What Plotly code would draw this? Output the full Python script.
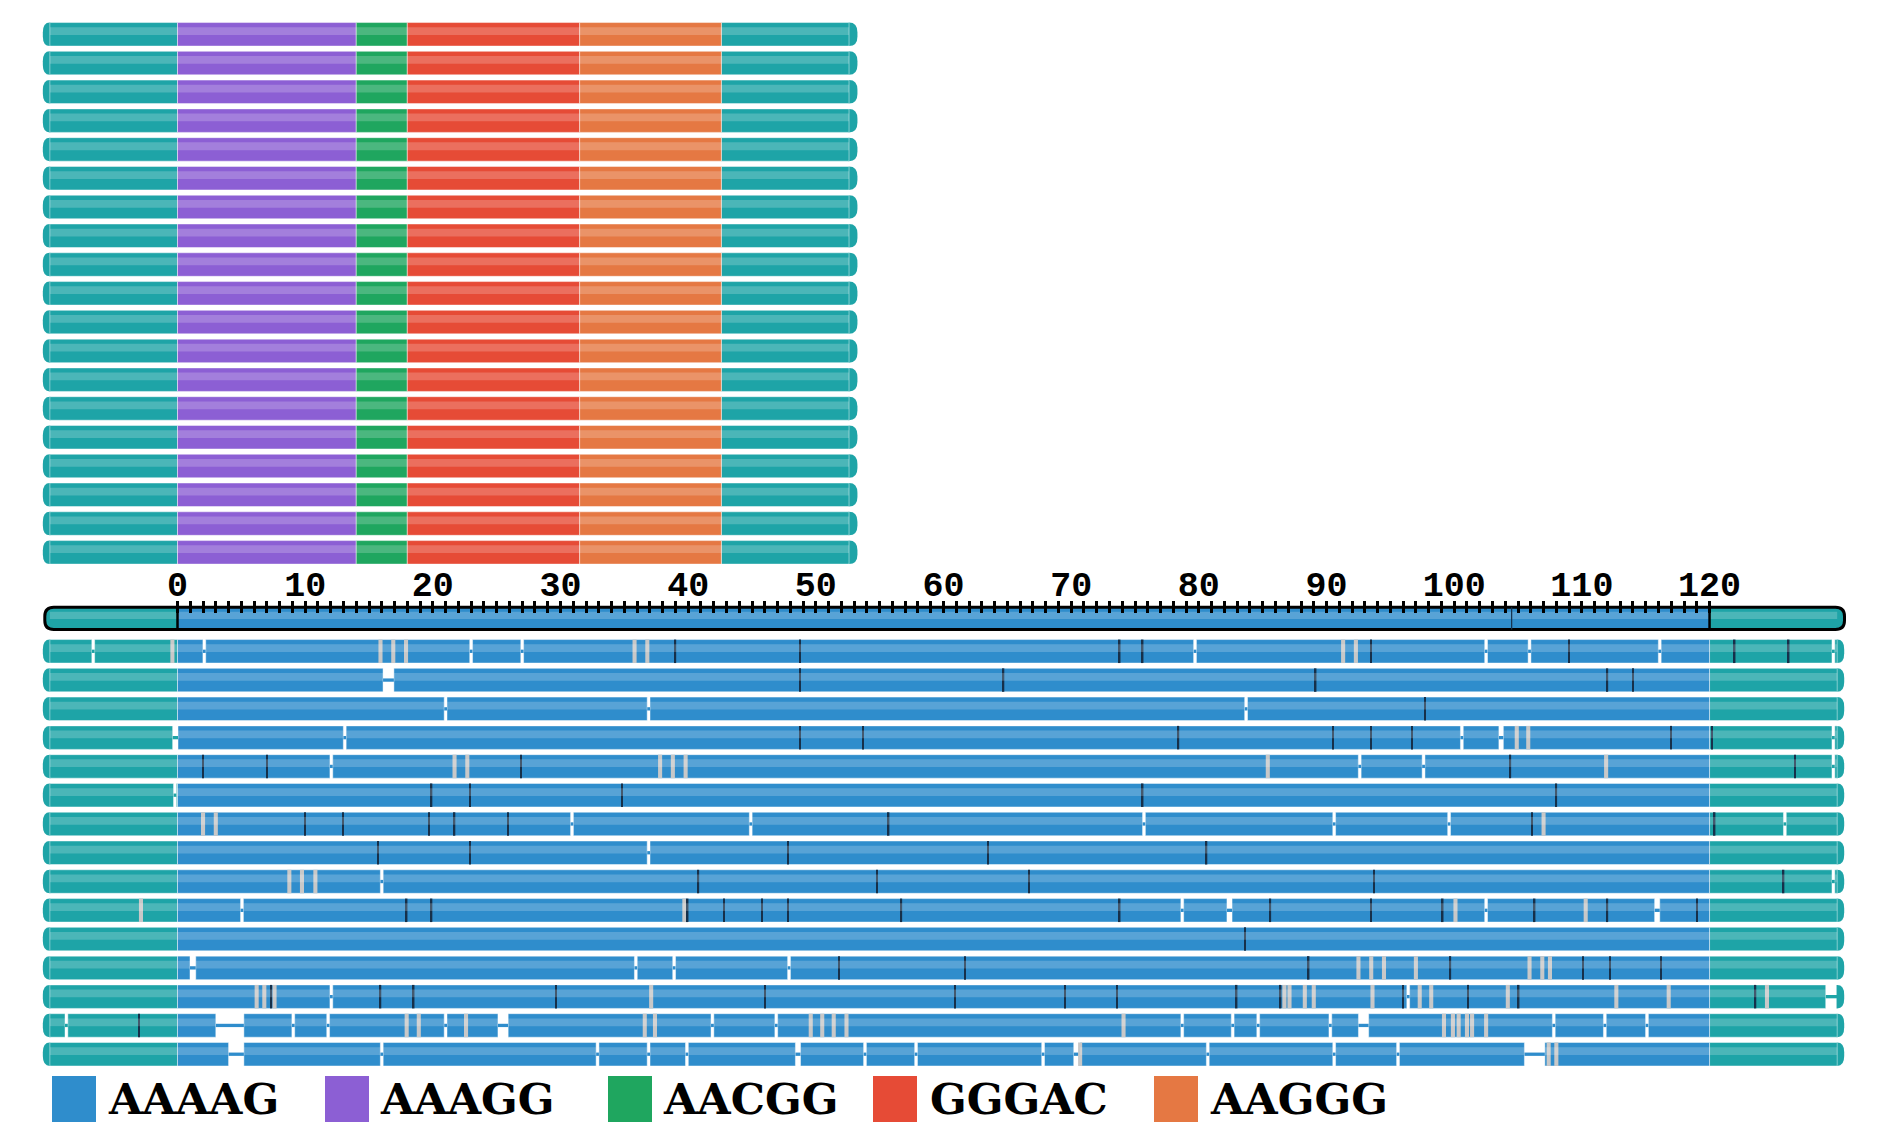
import plotly.graph_objects as go

# ------------------------------------------------------------------ data
FLANK_LEN = 10

# reference alleles: motif runs (in repeat units) drawn between the flanks
REF_MOTIFS = ["AAAGG", "AACGG", "GGGAC", "AAGGG"]
REF_RUN_LENGTHS = [14, 4, 13.5, 11.1]
N_REF_ALLELES = 19

# reads: a single AAAAG tract of 120 units
READ_MOTIF = "AAAAG"
READ_REPEAT_LEN = 120

# small splits between aligned pieces (unit position)
READ_BREAKS = [
    [-6.6, 2.1, 23.0, 27.0, 79.7, 102.5, 105.9, 116.1, 129.7],
    [],
    [21.0, 36.9, 83.7],
    [13.1, 100.6, 129.7],
    [12.05, 92.6, 97.6, 129.7],
    [-0.2],
    [30.9, 44.9, 75.7, 90.6, 99.6, 125.9],
    [36.9],
    [16.0, 129.7],
    [5.05, 78.7, 102.5],
    [],
    [35.9, 38.9, 47.9],
    [12.05, 96.4],
    [-8.7, 9.07, 11.8, 21.0, 41.9, 46.9, 78.7, 82.65, 84.65, 90.3, 107.8, 111.8, 115.1],
    [16.0, 32.9, 36.9, 39.9, 53.85, 57.85, 67.8, 80.7, 90.6, 95.6],
]

# deleted stretches (start, end), bridged by a thin line
READ_DELETIONS = [
    [],
    [(16.1, 16.95)],
    [],
    [(-0.38, 0.04), (103.5, 103.85)],
    [],
    [],
    [],
    [],
    [],
    [(82.2, 82.6), (115.7, 116.1)],
    [],
    [(0.98, 1.43)],
    [(129.1, 130.0)],
    [(3.0, 5.2), (25.1, 25.9), (92.5, 93.3)],
    [(4.0, 5.2), (48.4, 48.8), (70.2, 70.7), (105.5, 107.1)],
]

# single-base differences (dark ticks)
READ_DARK_TICKS = [
    [39.0, 48.76, 73.8, 75.6, 93.5, 109.0, 121.97, 126.2],
    [48.76, 64.7, 89.15, 112.0, 114.0],
    [97.7],
    [48.76, 53.7, 78.4, 90.5, 93.5, 96.7, 117.0, 120.2],
    [2.0, 7.0, 26.9, 104.4, 126.7],
    [19.9, 22.9, 34.8, 75.6, 108.0],
    [10.0, 12.96, 19.7, 21.7, 25.9, 55.7, 106.1, 120.4],
    [15.7, 22.9, 47.8, 63.5, 80.6],
    [40.8, 54.8, 66.7, 93.7, 125.8],
    [17.95, 19.9, 39.96, 42.8, 45.8, 47.8, 56.7, 73.8, 85.6, 93.5, 99.1, 106.3, 112.0, 119.0],
    [83.6],
    [51.8, 61.7, 88.6, 99.7, 110.1, 112.2, 116.2],
    [7.35, 15.9, 18.5, 29.65, 46.0, 60.9, 69.5, 73.6, 82.96, 86.4, 96.0, 101.1, 105.05, 123.6],
    [-3.0],
    [],
]

# inserted bases (grey ticks)
READ_GREY_TICKS = [
    [-0.4, 15.9, 16.9, 17.9, 35.8, 36.8, 91.3, 92.3],
    [],
    [],
    [104.9, 105.8],
    [21.7, 22.7, 37.8, 38.8, 39.8, 85.4, 111.9],
    [],
    [2.0, 3.0, 107.0],
    [],
    [8.76, 9.75, 10.8],
    [-2.86, 39.7, 100.1, 110.3],
    [],
    [92.5, 93.5, 94.5, 97.0, 105.9, 106.9, 107.5],
    [6.2, 6.8, 7.6, 37.1, 86.7, 87.1, 88.3, 89.0, 93.6, 97.3, 98.2, 104.2, 112.7, 116.8, 124.5],
    [17.95, 18.9, 22.6, 36.6, 37.4, 49.6, 50.5, 51.4, 52.4, 74.1, 99.2, 99.9, 100.35, 101.0, 101.4, 102.5],
    [70.7, 107.4, 108.0],
]

LEGEND_MOTIFS = ["AAAAG", "AAAGG", "AACGG", "GGGAC", "AAGGG"]
TICK_VALUES = list(range(0, 121, 10))
TICK_TEXT = [str(v) for v in TICK_VALUES]
MINOR_TICK_VALUES = [v for v in range(1, 120) if v % 10]

# ---------------------------------------------------------------- styling
COLORS = {
    "AAAAG": "#2f8dcc",
    "AAAGG": "#8c5fd4",
    "AACGG": "#1fa65f",
    "GGGAC": "#e64b36",
    "AAGGG": "#e57843",
    "flank": "#1ea4a7",
}
GREY = "#c8c8c8"
DARK = "#16304a"

W, H = 1889, 1139
X0_PX, PX_PER_UNIT = 177.5, 12.767
TOP_Y0, BOTTOM_Y0, ROW_PITCH, BAR_H = 34.3, 651.3, 28.78, 23.5
AXIS_TOP, AXIS_BOT = 607.3, 629.5
CAP_PX = 7.0
BREAK_HALF = 0.11
GREY_W, DARK_W = 0.32, 0.12
LEGEND_SQ_X = [52, 325, 608, 873, 1154]
LEGEND_TX_X = [106, 378, 661, 928, 1208]
LEGEND_Y, LEGEND_SQ_H, LEGEND_SQ_W = 1099, 46, 44

UNIT = 1.0 / PX_PER_UNIT


def new_layer(color, edge=False):
    return dict(color=color, edge=edge, base=[], x=[], y=[], w=[])


seg_layers, conn_layers = {}, {}
grey_layer = new_layer(GREY)
dark_layer = new_layer(DARK)
stripe_layer = new_layer("rgba(255,255,255,0.2)")


def put(layer, x0, x1, yc, thick):
    layer["base"].append(x0)
    layer["x"].append(x1 - x0)
    layer["y"].append(yc)
    layer["w"].append(thick)


def subtract(blocks, cuts):
    out = []
    for a, b, key in blocks:
        pieces = [(a, b)]
        for s, e in cuts:
            nxt = []
            for p, q in pieces:
                if e <= p or s >= q:
                    nxt.append((p, q))
                else:
                    if s > p:
                        nxt.append((p, s))
                    if e < q:
                        nxt.append((e, q))
            pieces = nxt
        out += [(p, q, key) for p, q in pieces]
    return out


shapes = []


def cap_path(x_edge, direction, yc, h, width_px):
    xo = x_edge + direction * width_px * UNIT
    xi = x_edge - direction * 0.05
    yt, yb = yc - h / 2, yc + h / 2
    return (f"M {xi},{yt} L {x_edge},{yt} Q {xo},{yt} {xo},{yt + 0.42 * h} "
            f"L {xo},{yb - 0.42 * h} Q {xo},{yb} {x_edge},{yb} L {xi},{yb} Z")


def draw_row(yc, blocks, cuts=(), right_cap_px=CAP_PX):
    for a, b, key in subtract(blocks, cuts):
        layer = seg_layers.setdefault(key, new_layer(COLORS[key], edge=True))
        put(layer, a, b, yc, BAR_H)
        put(stripe_layer, a, b, yc - 0.135 * BAR_H, 0.33 * BAR_H)
    for s, e in cuts:
        mid = (s + e) / 2
        key = next((k for a, b, k in blocks if a <= mid <= b), "flank")
        layer = conn_layers.setdefault(key, new_layer(COLORS[key]))
        put(layer, s, e, yc, 3.3)
    left, right = blocks[0][0], blocks[-1][1]
    for x_edge, d, wpx in ((left, -1, CAP_PX), (right, 1, right_cap_px)):
        shapes.append(dict(type="path", xref="x", yref="y", layer="below",
                           path=cap_path(x_edge, d, yc, BAR_H, wpx),
                           fillcolor=COLORS["flank"], line=dict(width=0)))


# reference alleles
ref_blocks = [(-FLANK_LEN, 0, "flank")]
pos = 0
for motif, run in zip(REF_MOTIFS, REF_RUN_LENGTHS):
    ref_blocks.append((pos, pos + run, motif))
    pos += run
ref_blocks.append((pos, pos + FLANK_LEN, "flank"))
for i in range(N_REF_ALLELES):
    draw_row(TOP_Y0 + i * ROW_PITCH, ref_blocks, right_cap_px=8.4)

# reads
read_blocks = [(-FLANK_LEN, 0, "flank"), (0, READ_REPEAT_LEN, READ_MOTIF),
               (READ_REPEAT_LEN, READ_REPEAT_LEN + FLANK_LEN, "flank")]
for i in range(len(READ_BREAKS)):
    yc = BOTTOM_Y0 + i * ROW_PITCH
    cuts = [(b - BREAK_HALF, b + BREAK_HALF) for b in READ_BREAKS[i]] + list(READ_DELETIONS[i])
    draw_row(yc, read_blocks, cuts)
    for g in READ_GREY_TICKS[i]:
        put(grey_layer, g - GREY_W / 2, g + GREY_W / 2, yc, BAR_H)
    for d in READ_DARK_TICKS[i]:
        put(dark_layer, d - DARK_W / 2, d + DARK_W / 2, yc, BAR_H)

# ---------------------------------------------------------------- ruler bar
axis_yc = (AXIS_TOP + AXIS_BOT) / 2
axis_h = AXIS_BOT - AXIS_TOP
ax_l = (44.8 - X0_PX) * UNIT
ax_r = (1844.5 - X0_PX) * UNIT
rx, ry = 9 * UNIT, 9


def rrect(x0, x1, y0, y1):
    return (f"M {x0 + rx},{y0} L {x1 - rx},{y0} Q {x1},{y0} {x1},{y0 + ry} "
            f"L {x1},{y1 - ry} Q {x1},{y1} {x1 - rx},{y1} L {x0 + rx},{y1} "
            f"Q {x0},{y1} {x0},{y1 - ry} L {x0},{y0 + ry} Q {x0},{y0} {x0 + rx},{y0} Z")


shapes.append(dict(type="path", xref="x", yref="y", layer="below",
                   path=rrect(ax_l, ax_r, AXIS_TOP, AXIS_BOT),
                   fillcolor=COLORS["flank"], line=dict(width=0)))
ruler_layer = new_layer(COLORS[READ_MOTIF])
put(ruler_layer, 0, READ_REPEAT_LEN, axis_yc, axis_h)
ruler_stripe = new_layer("rgba(255,255,255,0.2)")
put(ruler_stripe, -FLANK_LEN, READ_REPEAT_LEN + FLANK_LEN, axis_yc - 0.135 * axis_h, 0.33 * axis_h)

shapes.append(dict(type="path", xref="x", yref="y", layer="above",
                   path=rrect(ax_l, ax_r, AXIS_TOP, AXIS_BOT),
                   fillcolor="rgba(0,0,0,0)", line=dict(width=3, color="black")))
for xv in (0, READ_REPEAT_LEN):
    shapes.append(dict(type="line", xref="x", yref="y", layer="above",
                       x0=xv, x1=xv, y0=AXIS_TOP, y1=AXIS_BOT,
                       line=dict(width=2.5, color="black")))
shapes.append(dict(type="line", xref="x", yref="y", layer="above",
                   x0=104.5, x1=104.5, y0=AXIS_TOP, y1=AXIS_BOT,
                   line=dict(width=1.2, color=DARK)))

# ---------------------------------------------------------------- traces
fig = go.Figure()


def add_layer(layer):
    if not layer["base"]:
        return
    fig.add_trace(go.Bar(
        orientation="h", base=layer["base"], x=layer["x"], y=layer["y"], width=layer["w"],
        marker=dict(color=layer["color"],
                    line=dict(width=1 if layer["edge"] else 0, color="rgba(255,255,255,0.45)")),
        hoverinfo="skip", showlegend=False,
    ))


add_layer(ruler_layer)
add_layer(ruler_stripe)
for layer in seg_layers.values():
    add_layer(layer)
for layer in conn_layers.values():
    add_layer(layer)
add_layer(grey_layer)
add_layer(dark_layer)
add_layer(stripe_layer)

# ---------------------------------------------------------------- legend
annotations = []
for motif, sx, tx in zip(LEGEND_MOTIFS, LEGEND_SQ_X, LEGEND_TX_X):
    shapes.append(dict(type="rect", xref="paper", yref="y",
                       x0=sx / W, x1=(sx + LEGEND_SQ_W) / W,
                       y0=LEGEND_Y - LEGEND_SQ_H / 2, y1=LEGEND_Y + LEGEND_SQ_H / 2,
                       fillcolor=COLORS[motif], line=dict(width=0)))
    annotations.append(dict(text=motif, x=tx / W, xref="paper", xanchor="left",
                            y=LEGEND_Y, yref="y", yanchor="middle", showarrow=False,
                            font=dict(family="DejaVu Serif", size=43, color="black", weight="bold")))

fig.update_layout(
    width=W, height=H, margin=dict(l=0, r=0, t=0, b=0),
    paper_bgcolor="white", plot_bgcolor="white",
    barmode="overlay", shapes=shapes, annotations=annotations, showlegend=False,
    xaxis=dict(
        range=[-X0_PX * UNIT, (W - X0_PX) * UNIT], side="top", anchor="free",
        position=1 - 612.5 / H, showgrid=False, zeroline=False, showline=False,
        tickmode="array", tickvals=TICK_VALUES, ticktext=TICK_TEXT,
        ticks="outside", ticklen=12, tickwidth=2.5, tickcolor="black",
        ticklabelstandoff=-9,
        tickfont=dict(family="Liberation Mono", size=35, color="black", weight="bold"),
        minor=dict(tickmode="array", tickvals=MINOR_TICK_VALUES, ticks="outside",
                   ticklen=12, tickwidth=2.5, tickcolor="black"),
        fixedrange=True,
    ),
    yaxis=dict(range=[H, 0], visible=False, fixedrange=True),
)

fig.write_html("out.html")
